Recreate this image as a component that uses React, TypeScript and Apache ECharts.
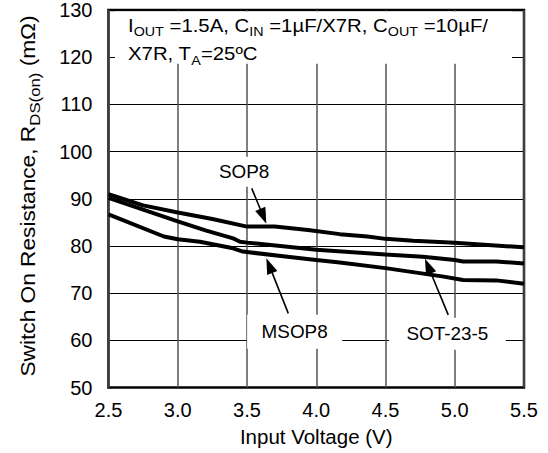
import React, { useEffect, useRef } from "react";
import * as echarts from "echarts";

// ---- data ----
const xTicks = [2.5, 3.0, 3.5, 4.0, 4.5, 5.0, 5.5];
const yTicks = [50, 60, 70, 80, 90, 100, 110, 120, 130];

const sop8V = [2.5, 2.75, 3.0, 3.25, 3.5, 3.7, 3.94, 4.17, 4.37, 4.5, 4.7, 5.0, 5.5];
const sop8R = [91.0, 88.6, 87.1, 85.7, 84.1, 84.1, 83.4, 82.5, 82.0, 81.5, 81.1, 80.7, 79.7];

const sot235V = [2.5, 2.75, 3.0, 3.2, 3.4, 3.45, 3.5, 4.0, 4.5, 4.77, 5.0, 5.06, 5.3, 5.5];
const sot235R = [90.2, 87.7, 85.2, 83.3, 81.6, 80.9, 80.7, 79.2, 78.2, 77.7, 77.0, 76.7, 76.7, 76.3];

const msop8V = [2.5, 2.9, 3.0, 3.16, 3.28, 3.4, 3.47, 3.5, 4.0, 4.17, 4.5, 4.92, 5.06, 5.3, 5.5];
const msop8R = [86.7, 82.0, 81.4, 80.9, 80.2, 79.5, 78.8, 78.7, 77.0, 76.5, 75.3, 73.5, 72.8, 72.7, 72.0];

const xTitle = "Input Voltage (V)";
const yTitleParts = [
  { t: "Switch On Resistance, R" },
  { t: "DS(on)", sub: true },
  { t: " (mΩ)" },
];
const noteLine1 = [
  { t: "I" }, { t: "OUT", sub: true }, { t: " =1.5A, C" }, { t: "IN", sub: true },
  { t: " =1µF/X7R, C" }, { t: "OUT", sub: true }, { t: " =10µF/" },
];
const noteLine2 = [{ t: "X7R, T" }, { t: "A", sub: true }, { t: "=25ºC" }];

const FONT = '"Liberation Sans", Arial, Helvetica, sans-serif';

function pairs(v: number[], r: number[]) {
  return v.map((x, i) => [x, r[i]]);
}

export default function App() {
  const ref = useRef<HTMLDivElement>(null);
  useEffect(() => {
    document.body.style.margin = "0";
    const chart = echarts.init(ref.current!, null, { renderer: "svg" });
    const lineStyle = { color: "#000", width: 4 };
    chart.setOption({
      animation: false,
      backgroundColor: "#fff",
      grid: {
        left: 108.5,
        right: 24,
        top: 10,
        bottom: 65.5,
        show: true,
        borderColor: "#000",
        borderWidth: 2.5,
        backgroundColor: "transparent",
      },
      xAxis: {
        type: "value",
        min: 2.5,
        max: 5.5,
        interval: 0.5,
        axisLine: { show: false },
        axisTick: { show: false },
        axisLabel: {
          color: "#000",
          fontFamily: FONT,
          fontSize: 20,
          margin: 12,
          formatter: (v: number) => v.toFixed(1),
        },
        splitLine: { show: true, lineStyle: { color: "#555", width: 1.5 } },
        name: xTitle,
        nameLocation: "middle",
        nameGap: 38,
        nameTextStyle: { color: "#000", fontFamily: FONT, fontSize: 20.5 },
      },
      yAxis: {
        type: "value",
        min: 50,
        max: 130,
        interval: 10,
        axisLine: { show: false },
        axisTick: { show: false },
        axisLabel: { color: "#000", fontFamily: FONT, fontSize: 20, margin: 16 },
        splitLine: { show: true, lineStyle: { color: "#000", width: 1 } },
      },
      series: [
        { name: "SOP8", type: "line", data: pairs(sop8V, sop8R), showSymbol: false, lineStyle, z: 2 },
        { name: "SOT-23-5", type: "line", data: pairs(sot235V, sot235R), showSymbol: false, lineStyle, z: 2 },
        { name: "MSOP8", type: "line", data: pairs(msop8V, msop8R), showSymbol: false, lineStyle, z: 2 },
      ],
    });

    const ctx = document.createElement("canvas").getContext("2d")!;
    const tw = (t: string, size: number) => {
      ctx.font = `${size}px ${FONT}`;
      return ctx.measureText(t).width;
    };
    const px = (v: number, r: number) =>
      chart.convertToPixel({ xAxisIndex: 0, yAxisIndex: 0 }, [v, r]) as number[];

    // runs of text with subscripts, horizontal, baseline at (x, base)
    const runs = (parts: { t: string; sub?: boolean }[], x0: number, base: number, size: number, subSize: number, sx: number) => {
      const els: any[] = [];
      let x = x0;
      for (const p of parts) {
        const s = p.sub ? subSize : size;
        const b = p.sub ? base + 5 : base;
        els.push({
          type: "text",
          x,
          y: b - 0.35 * s,
          scaleX: sx,
          z: 10,
          style: { text: p.t, font: `${s}px ${FONT}`, fill: "#000", verticalAlign: "middle", align: "left" },
        });
        x += tw(p.t, s) * sx;
      }
      return els;
    };

    const graphics: any[] = [];

    // top note box
    const bA = px(2.547, 129.7);
    const bB = px(5.413, 118.6);
    graphics.push({
      type: "rect", z: 1,
      shape: { x: bA[0], y: bA[1], width: bB[0] - bA[0], height: bB[1] - bA[1] },
      style: { fill: "#fff" },
    });
    const n1 = px(2.641, 125.45);
    const n2 = px(2.641, 119.4);
    graphics.push(...runs(noteLine1, n1[0], n1[1], 18.5, 13, 1.1));
    graphics.push(...runs(noteLine2, n2[0], n2[1], 18.5, 13, 1.1));

    // labels with white boxes
    const labels = [
      { t: "SOP8", v: 3.479, r: 95.7, w: 50, h: 30 },
      { t: "MSOP8", v: 3.844, r: 61.8, w: 95, h: 34 },
      { t: "SOT-23-5", v: 4.947, r: 61.4, w: 117, h: 32 },
    ];
    for (const l of labels) {
      const c = px(l.v, l.r);
      graphics.push({
        type: "rect", z: 1,
        shape: { x: c[0] - l.w / 2, y: c[1] - l.h / 2, width: l.w, height: l.h },
        style: { fill: "#fff" },
      });
      graphics.push({
        type: "text", z: 10, x: c[0], y: c[1], scaleX: 1.05,
        style: { text: l.t, font: `18px ${FONT}`, fill: "#000", align: "center", verticalAlign: "middle" },
      });
    }

    // arrows
    const arrows = [
      { from: [3.534, 92.2], to: [3.64, 84.7] },
      { from: [3.798, 65.7], to: [3.64, 77.4] },
      { from: [4.953, 65.4], to: [4.785, 77.3] },
    ];
    for (const a of arrows) {
      const f = px(a.from[0], a.from[1]);
      const t = px(a.to[0], a.to[1]);
      const dx = t[0] - f[0], dy = t[1] - f[1];
      const len = Math.hypot(dx, dy);
      const ux = dx / len, uy = dy / len;
      const hl = 16, hw = 5.5;
      const bx = t[0] - ux * hl, by = t[1] - uy * hl;
      graphics.push({
        type: "line", z: 10,
        shape: { x1: f[0], y1: f[1], x2: bx, y2: by },
        style: { stroke: "#000", lineWidth: 1.6 },
      });
      graphics.push({
        type: "polygon", z: 10,
        shape: { points: [[t[0], t[1]], [bx - uy * hw, by + ux * hw], [bx + uy * hw, by - ux * hw]] },
        style: { fill: "#000" },
      });
    }

    // y-axis title (rotated)
    const ySize = 21, ySub = 15.5, ysx = 1.08;
    const yChildren: any[] = [];
    let lx = 0;
    for (const p of yTitleParts) {
      const s = p.sub ? ySub : ySize;
      const b = p.sub ? 5 : 0;
      yChildren.push({
        type: "text", x: lx, y: b - 0.35 * s, scaleX: ysx,
        style: { text: p.t, font: `${s}px ${FONT}`, fill: "#000", align: "left", verticalAlign: "middle" },
      });
      lx += tw(p.t, s) * ysx;
    }
    const yStart = px(2.5, 50)[1] - 11;
    graphics.push({ type: "group", x: 35, y: yStart, rotation: Math.PI / 2, z: 10, children: yChildren });

    chart.setOption({ graphic: graphics });
    return () => chart.dispose();
  }, []);
  return <div ref={ref} style={{ width: 548, height: 453 }} />;
}
